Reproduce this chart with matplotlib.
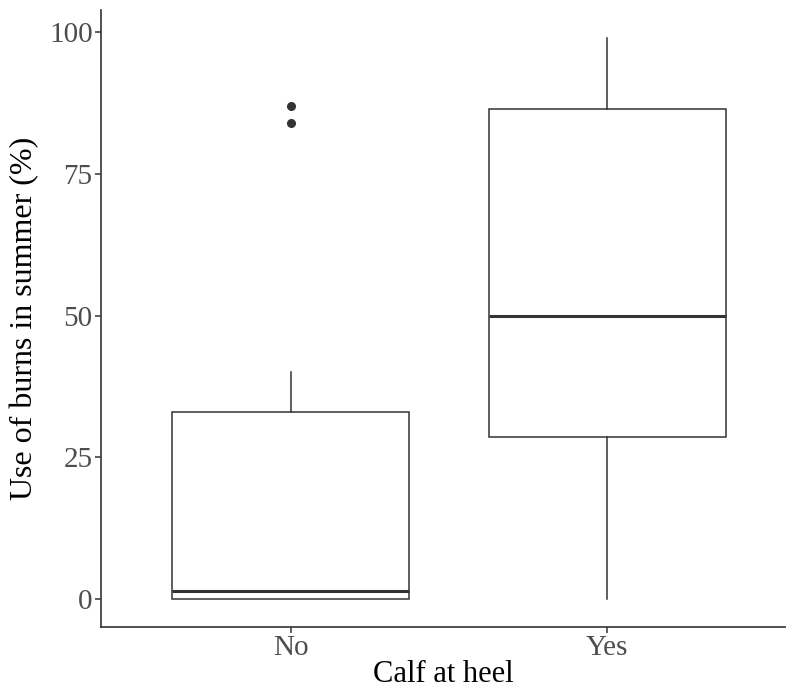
import matplotlib.pyplot as plt

# summary stats per group (percent use of burns in summer)
groups = ["No", "Yes"]
lower_whisker = [0, 0]
q1 = [0, 28.5]
median = [1.4, 50]
q3 = [33, 86.5]
upper_whisker = [40, 99]
outliers = [[84, 87], []]

plt.rcParams['font.family'] = ['Liberation Serif', 'DejaVu Serif']

fig = plt.figure(figsize=(7.86, 6.91), dpi=100)
ax = fig.add_axes([0.1285, 0.0926, 0.8715, 0.893])

stats = []
for i, g in enumerate(groups):
    stats.append(dict(label=g, whislo=lower_whisker[i], q1=q1[i], med=median[i],
                      q3=q3[i], whishi=upper_whisker[i], fliers=outliers[i]))

ax.bxp(stats, positions=[1, 2], widths=0.75, showcaps=False, patch_artist=True,
       boxprops=dict(facecolor='white', edgecolor='#333333', linewidth=1.1),
       whiskerprops=dict(color='#333333', linewidth=1.1),
       medianprops=dict(color='#333333', linewidth=2.2),
       flierprops=dict(marker='o', markerfacecolor='#333333', markeredgecolor='#333333',
                       markersize=5.5))

ax.set_xlim(0.4, 2.565)
ax.set_ylim(-4.95, 103.95)
ax.set_yticks([0, 25, 50, 75, 100])
ax.set_xticks([1, 2])
ax.set_xticklabels(groups)

for s in ['top', 'right']:
    ax.spines[s].set_visible(False)
for s in ['left', 'bottom']:
    ax.spines[s].set_color('#333333')
    ax.spines[s].set_linewidth(1.2)

ax.tick_params(axis='both', colors='#333333', labelcolor='#4D4D4D', labelsize=21,
               length=4, width=1.1, pad=2)

ax.set_xlabel("Calf at heel", fontsize=22, color='black', labelpad=-1)
ax.set_ylabel("Use of burns in summer (%)", fontsize=23, color='black', labelpad=7)

fig.savefig("out.png", dpi=100)
